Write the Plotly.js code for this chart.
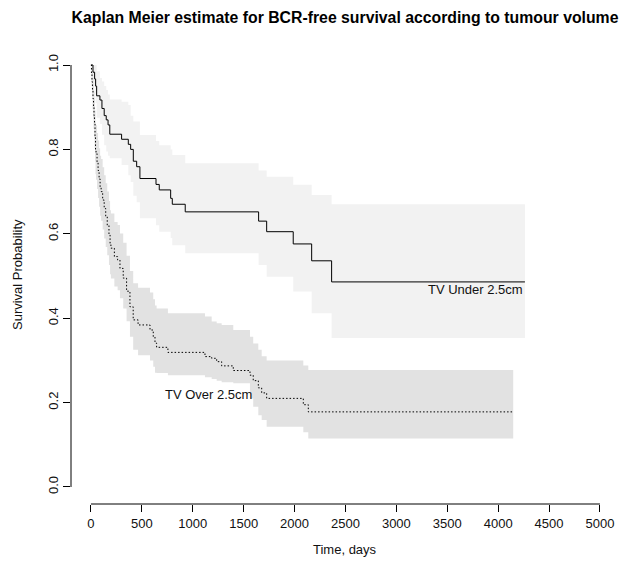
<!DOCTYPE html>
<html><head><meta charset="utf-8">
<script src="https://cdn.plot.ly/plotly-3.0.1.min.js"></script>
<style>html,body{margin:0;padding:0;background:#fff}#chart{width:619px;height:569px}</style>
</head><body><div id="chart"></div>
<script>
// TV Under 2.5cm group
const underTime  = [0,20,36,46,56,88,108,130,150,168,185,301,367,390,416,449,481,639,671,783,799,926,1647,1726,1987,2168,2364];
const underSurv  = [1.0,0.983,0.967,0.95,0.927,0.917,0.897,0.88,0.87,0.858,0.836,0.824,0.812,0.800,0.772,0.759,0.731,0.717,0.704,0.684,0.670,0.652,0.630,0.605,0.576,0.536,0.486];
const underUpper = [1,1,1,1,0.985,0.969,0.961,0.95,0.941,0.93,0.918,0.913,0.905,0.88,0.866,0.866,0.834,0.82,0.81,0.80,0.787,0.767,0.75,0.735,0.716,0.692,0.670];
const underLower = [1,0.95,0.93,0.91,0.875,0.86,0.835,0.81,0.795,0.785,0.779,0.763,0.739,0.723,0.69,0.675,0.637,0.62,0.605,0.59,0.573,0.554,0.526,0.498,0.463,0.412,0.353];
const underEnd = 4263;

// TV Over 2.5cm group
const overTime  = [0,5,10,15,20,25,30,35,40,45,50,60,70,80,90,100,115,130,145,160,177,188,196,230,262,285,317,350,383,415,463,580,612,629,645,756,1120,1186,1235,1284,1398,1562,1594,1644,1677,1726,2086,2135];
const overSurv  = [1,0.98,0.96,0.94,0.92,0.90,0.88,0.86,0.83,0.80,0.79,0.77,0.75,0.73,0.71,0.70,0.68,0.66,0.64,0.62,0.597,0.575,0.566,0.546,0.538,0.518,0.495,0.464,0.427,0.396,0.384,0.372,0.356,0.341,0.331,0.319,0.309,0.305,0.297,0.287,0.276,0.265,0.252,0.235,0.223,0.21,0.195,0.178];
const overUpper = [1,1,0.998,0.987,0.97,0.954,0.937,0.92,0.892,0.864,0.857,0.839,0.821,0.803,0.785,0.777,0.758,0.739,0.72,0.70,0.678,0.656,0.648,0.628,0.621,0.601,0.579,0.548,0.512,0.483,0.472,0.461,0.445,0.43,0.423,0.412,0.404,0.392,0.388,0.384,0.372,0.356,0.34,0.325,0.31,0.30,0.288,0.277];
const overLower = [1,0.95,0.923,0.895,0.872,0.849,0.826,0.804,0.772,0.741,0.728,0.706,0.685,0.664,0.643,0.631,0.61,0.589,0.569,0.549,0.526,0.504,0.494,0.475,0.466,0.447,0.423,0.393,0.356,0.325,0.312,0.30,0.285,0.271,0.27,0.265,0.26,0.256,0.252,0.248,0.246,0.21,0.19,0.17,0.159,0.143,0.13,0.115];
const overEnd = 4148;

const xTicks = [0,500,1000,1500,2000,2500,3000,3500,4000,4500,5000];
const yTicks = [0,0.2,0.4,0.6,0.8,1.0];
const yTickText = ['0.0','0.2','0.4','0.6','0.8','1.0'];

const FONT = '"Liberation Sans", Arial, Helvetica, sans-serif';
function ext(arr, v){ return arr.concat([v]); }
function last(arr){ return arr[arr.length-1]; }

const uT = ext(underTime, underEnd);
const oT = ext(overTime, overEnd);

const traces = [
  {x:uT, y:ext(underUpper,last(underUpper)), mode:'lines', line:{width:0,shape:'hv'}, hoverinfo:'skip', showlegend:false},
  {x:uT, y:ext(underLower,last(underLower)), mode:'lines', line:{width:0,shape:'hv'}, fill:'tonexty', fillcolor:'#f2f2f2', hoverinfo:'skip', showlegend:false},
  {x:oT, y:ext(overUpper,last(overUpper)), mode:'lines', line:{width:0,shape:'hv'}, hoverinfo:'skip', showlegend:false},
  {x:oT, y:ext(overLower,last(overLower)), mode:'lines', line:{width:0,shape:'hv'}, fill:'tonexty', fillcolor:'#e2e2e2', hoverinfo:'skip', showlegend:false},
  {x:uT, y:ext(underSurv,last(underSurv)), mode:'lines', line:{color:'#000',width:1,shape:'hv'}, showlegend:false},
  {x:oT, y:ext(overSurv,last(overSurv)), mode:'lines', line:{color:'#000',width:1,shape:'hv',dash:'1.5px,2px'}, showlegend:false}
];

const layout = {
  width:619, height:569,
  margin:{l:71, r:0, t:48, b:65, pad:0},
  paper_bgcolor:'#fff', plot_bgcolor:'#fff',
  font:{family:FONT, size:13, color:'#000'},
  title:{text:'<b>Kaplan Meier estimate for BCR-free survival according to tumour volume</b>',
         font:{family:FONT, size:15.8, color:'#000'},
         xref:'paper', x:0.5, xanchor:'center', yref:'container', y:1-17/569, yanchor:'middle'},
  xaxis:{range:[-196,5187], tickvals:xTicks, ticks:'outside', ticklen:7, tickwidth:1, tickcolor:'#000',
         showgrid:false, zeroline:false, showline:false, tickfont:{family:FONT,size:13,color:'#111'}},
  yaxis:{range:[-0.0403,1.0403], tickvals:yTicks, ticktext:yTickText, tickangle:-90, ticks:'outside', ticklen:7, tickwidth:1, tickcolor:'#000',
         showgrid:false, zeroline:false, showline:false, tickfont:{family:FONT,size:13,color:'#111'}},
  shapes:[
    {type:'line', xref:'x', yref:'paper', x0:0, x1:5000, y0:0, y1:0, line:{color:'#000',width:1}},
    {type:'line', xref:'paper', yref:'y', x0:0, x1:0, y0:0, y1:1, line:{color:'#000',width:1}}
  ],
  annotations:[
    {text:'Time, days', xref:'paper', yref:'paper', x:0.5, y:-45/456, xanchor:'center', yanchor:'middle', showarrow:false, font:{family:FONT,size:13,color:'#111'}},
    {text:'Survival Probability', xref:'paper', yref:'paper', x:-54/548, y:229/456, xanchor:'center', yanchor:'middle', textangle:-90, showarrow:false, font:{family:FONT,size:13,color:'#111'}},
    {text:'TV Under 2.5cm', xref:'x', yref:'y', x:underEnd, y:0.467, xanchor:'right', yanchor:'middle', showarrow:false, font:{family:FONT,size:13,color:'#111'}},
    {text:'TV Over 2.5cm', xref:'x', yref:'y', x:1601, y:0.22, xanchor:'right', yanchor:'middle', showarrow:false, font:{family:FONT,size:13,color:'#111'}}
  ],
  hovermode:false
};
Plotly.newPlot('chart', traces, layout, {displayModeBar:false, staticPlot:true});
</script></body></html>
